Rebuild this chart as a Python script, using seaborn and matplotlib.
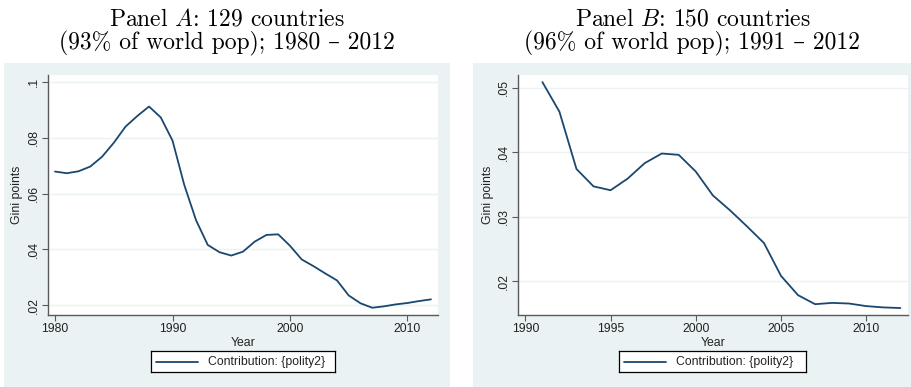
import numpy as np
import pandas as pd
import matplotlib
matplotlib.use("Agg")
import matplotlib.pyplot as plt
import seaborn as sns

# Panel A: 1980-2012
years_a = list(range(1980, 2013))
gini_a = [0.0679, 0.0673, 0.0680, 0.0697, 0.0732, 0.0782, 0.0840, 0.0878, 0.0912,
          0.0873, 0.0790, 0.0631, 0.0505, 0.0416, 0.0390, 0.0378, 0.0392, 0.0428,
          0.0452, 0.0454, 0.0413, 0.0364, 0.0340, 0.0314, 0.0289, 0.0235, 0.0207,
          0.0191, 0.0196, 0.0203, 0.0208, 0.0215, 0.0221]

# Panel B: 1991-2012
years_b = list(range(1991, 2013))
gini_b = [0.0509, 0.0463, 0.0374, 0.0347, 0.0341, 0.0359, 0.0383, 0.0398, 0.0396,
          0.0370, 0.0333, 0.0310, 0.0285, 0.0259, 0.0208, 0.0178, 0.0164, 0.0166,
          0.0165, 0.0161, 0.0159, 0.0158]

titles = ["Panel $A$: 129 countries\n(93% of world pop); 1980 \u2013 2012",
          "Panel $B$: 150 countries\n(96% of world pop); 1991 \u2013 2012"]
yticks_a = [0.02, 0.04, 0.06, 0.08, 0.1]
ytick_labels_a = [".02", ".04", ".06", ".08", ".1"]
yticks_b = [0.02, 0.03, 0.04, 0.05]
ytick_labels_b = [".02", ".03", ".04", ".05"]
xticks_a = [1980, 1990, 2000, 2010]
xticks_b = [1990, 1995, 2000, 2005, 2010]
legend_label = "Contribution: {polity2}"

sns.set_theme(style="white")
plt.rcParams["font.family"] = ["Liberation Sans", "DejaVu Sans"]
plt.rcParams["mathtext.fontset"] = "cm"
plt.rcParams["axes.formatter.use_mathtext"] = True

W, H = 912, 387
fig = plt.figure(figsize=(W / 100, H / 100), dpi=100)
fig.patch.set_facecolor("white")

BG = "#eaf2f3"
LINE = "#1a476f"
SPINE = "#5a5a5a"


def px_axes(x0, y0, x1, y1):
    return fig.add_axes([x0 / W, 1 - y1 / H, (x1 - x0) / W, (y1 - y0) / H])


panels = [
    dict(box=(4, 63, 450, 387), plot=(48, 75, 438, 315), years=years_a, vals=gini_a,
         ylim=(0.0165, 0.1025), xlim=(1979.4, 2012.6), yt=yticks_a, ytl=ytick_labels_a,
         xt=xticks_a, title=titles[0], legend=(151, 351, 335, 372)),
    dict(box=(473, 63, 912, 387), plot=(518, 75, 908, 315), years=years_b, vals=gini_b,
         ylim=(0.01472, 0.052), xlim=(1989.57, 2012.45), yt=yticks_b, ytl=ytick_labels_b,
         xt=xticks_b, title=titles[1], legend=(619, 351, 806, 372)),
]

for p in panels:
    bx0, by0, bx1, by1 = p["box"]
    # grey graph region behind the plot area
    bg_ax = px_axes(bx0, by0, bx1, by1)
    bg_ax.set_facecolor(BG)
    bg_ax.set_xticks([])
    bg_ax.set_yticks([])
    for s in bg_ax.spines.values():
        s.set_visible(False)
    bg_ax.set_zorder(-5)

    x0, y0, x1, y1 = p["plot"]
    ax = px_axes(x0, y0, x1, y1)
    ax.set_facecolor("white")
    df = pd.DataFrame({"Year": p["years"], "Gini points": p["vals"]})
    sns.lineplot(data=df, x="Year", y="Gini points", ax=ax, color=LINE, lw=1.3,
                 legend=False)
    ax.set_xlim(*p["xlim"])
    ax.set_ylim(*p["ylim"])
    ax.set_yticks(p["yt"])
    ax.set_yticklabels(p["ytl"], rotation=90, va="center")
    ax.set_xticks(p["xt"])
    ax.set_xticklabels([str(t) for t in p["xt"]])
    ax.grid(axis="y", color=BG, lw=1.0)
    ax.grid(axis="x", visible=False)
    for s in ["top", "right"]:
        ax.spines[s].set_visible(False)
    for s in ["left", "bottom"]:
        ax.spines[s].set_color(SPINE)
        ax.spines[s].set_linewidth(1.0)
    ax.tick_params(axis="both", direction="out", length=4, width=0.8, color=SPINE,
                   labelsize=8.8, labelcolor="#222222", pad=2, left=True, bottom=True)
    ax.set_xlabel("Year", fontsize=8.8, labelpad=1, color="#222222")
    ax.set_ylabel("Gini points", fontsize=8.8, labelpad=3, color="#222222")

    # title above the grey region
    cx = (bx0 + bx1) / 2 / W
    fig.text(cx, 1 - 32 / H, p["title"], ha="center", va="center",
             fontsize=17, family=["cmr10", "DejaVu Serif"], linespacing=1.0,
             math_fontfamily="cm", color="black")

    # legend box
    lx0, ly0, lx1, ly1 = p["legend"]
    lax = px_axes(lx0, ly0, lx1, ly1)
    lax.set_xlim(0, 1)
    lax.set_ylim(0, 1)
    lax.set_xticks([])
    lax.set_yticks([])
    lax.set_facecolor("white")
    for s in lax.spines.values():
        s.set_color("black")
        s.set_linewidth(0.9)
    wpx = lx1 - lx0
    lax.plot([5 / wpx, 47 / wpx], [0.5, 0.5], color=LINE, lw=1.3)
    lax.text(57 / wpx, 0.5, legend_label, va="center", ha="left", fontsize=8.8,
             color="#222222")

fig.savefig("out.png", dpi=100)
